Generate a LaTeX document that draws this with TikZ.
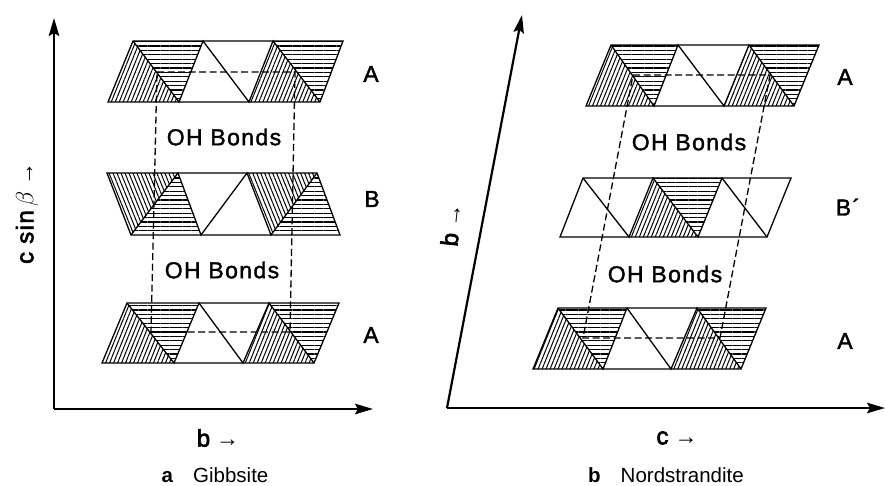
\documentclass[tikz,border=0pt]{standalone}
\usepackage{fontspec}
\setmainfont{Liberation Sans}
\newfontfamily\labelfont[LetterSpace=6,FakeBold=1.6]{Liberation Sans}
\newfontfamily\axisfont[LetterSpace=6,FakeBold=2.6]{Liberation Sans}
\usetikzlibrary{arrows.meta,patterns.meta}
\newcommand{\axisarrow}{{\fontsize{23}{24}\selectfont\normalfont\bfseries →}}
\tikzset{
  sheetline/.style={line width=1.3pt},
  bondline/.style={line width=1.3pt,dash pattern=on 7pt off 3.5pt},
  axisline/.style={line width=2.2pt,-{Stealth[length=18pt,width=10.5pt,inset=3pt]}},
  hatchflat/.style={pattern={Lines[angle=0,distance=4.4pt,line width=1.1pt]}},
  hatchup/.style={pattern={Lines[angle=68,distance=3.7pt,line width=1pt]}},
  hatchdown/.style={pattern={Lines[angle=-68,distance=3.7pt,line width=1pt]}},
  biglabel/.style={font=\fontsize{23}{26}\labelfont},
  axislabel/.style={font=\fontsize{24}{28}\axisfont},
  caption/.style={font=\fontsize{20.5}{24}\selectfont}
}
\begin{document}
\begin{tikzpicture}[x=1pt,y=-1pt]
\useasboundingbox (0,0) rectangle (885,486);

% a: axes
\coordinate (originA) at (54,409);
\coordinate (topA) at (54,18);
\coordinate (rightA) at (373,409);
\draw[axisline] (originA) -- (topA);
\draw[axisline] (originA) -- (rightA);

% a: upper sheet A
\fill[hatchup] (133,41) -- (108,102) -- (179,102) -- cycle;
\fill[hatchflat] (133,41) -- (203,41) -- (179,102) -- cycle;
\fill[hatchup] (273,41) -- (249,102) -- (320,102) -- cycle;
\fill[hatchflat] (273,41) -- (343,41) -- (320,102) -- cycle;
\draw[sheetline] (133,41) -- (343,41) -- (320,102) -- (108,102) -- cycle;
\draw[sheetline] (133,41) -- (179,102) -- (203,41) -- (249,102) -- (273,41) -- (320,102);

% a: middle sheet B
\fill[hatchdown] (107,173) -- (178,173) -- (131,235) -- cycle;
\fill[hatchflat] (178,173) -- (131,235) -- (201,235) -- cycle;
\fill[hatchdown] (247,173) -- (317,173) -- (271,235) -- cycle;
\fill[hatchflat] (317,173) -- (271,235) -- (340,235) -- cycle;
\draw[sheetline] (107,173) -- (317,173) -- (340,235) -- (131,235) -- cycle;
\draw[sheetline] (131,235) -- (178,173) -- (201,235) -- (247,173) -- (271,235) -- (317,173);

% a: lower sheet A
\fill[hatchup] (127,303) -- (102,363) -- (174,363) -- cycle;
\fill[hatchflat] (127,303) -- (199,303) -- (174,363) -- cycle;
\fill[hatchup] (269,303) -- (243,363) -- (314,363) -- cycle;
\fill[hatchflat] (269,303) -- (339,303) -- (314,363) -- cycle;
\draw[sheetline] (127,303) -- (339,303) -- (314,363) -- (102,363) -- cycle;
\draw[sheetline] (127,303) -- (174,363) -- (199,303) -- (243,363) -- (269,303) -- (314,363);

% a: unit cell
\draw[bondline] (157,72) -- (295,72) -- (290,332) -- (151,332) -- cycle;

\node[biglabel] (upperA) at (371,74) {A};
\node[biglabel] (middleB) at (372,199) {B};
\node[biglabel] (lowerA) at (371,335) {A};
\node[biglabel] (bondsAa) at (224,137) {OH Bonds};
\node[biglabel] (bondsAb) at (222,270) {OH Bonds};
\node[axislabel,rotate=90] (csinb) at (27,213) {c sin\,$\beta$\hspace{6pt}\axisarrow};
\node[axislabel] (bArrow) at (218,438) {b\hspace{6pt}\axisarrow};
\node[caption] (capA) at (215,475) {\textbf{a}\hspace{20pt}Gibbsite};

% b: axes
\coordinate (originB) at (447,408);
\coordinate (topB) at (522,15);
\coordinate (rightB) at (885,408);
\draw[axisline] (originB) -- (topB);
\draw[axisline] (originB) -- (rightB);

% b: upper sheet A
\fill[hatchup] (611,45) -- (586,106) -- (654,106) -- cycle;
\fill[hatchflat] (611,45) -- (678,45) -- (654,106) -- cycle;
\fill[hatchup] (749,45) -- (724,106) -- (794,106) -- cycle;
\fill[hatchflat] (749,45) -- (819,45) -- (794,106) -- cycle;
\draw[sheetline] (611,45) -- (819,45) -- (794,106) -- (586,106) -- cycle;
\draw[sheetline] (611,45) -- (654,106) -- (678,45) -- (724,106) -- (749,45) -- (794,106);

% b: middle sheet B'
\fill[hatchup] (653,178) -- (629,237) -- (698,237) -- cycle;
\fill[hatchflat] (653,178) -- (722,178) -- (698,237) -- cycle;
\draw[sheetline] (583,178) -- (791,178) -- (767,237) -- (560,237) -- cycle;
\draw[sheetline] (583,178) -- (629,237) -- (653,178) -- (698,237) -- (722,178) -- (767,237);

% b: lower sheet A
\fill[hatchup] (558,308) -- (533,369) -- (603,369) -- cycle;
\fill[hatchflat] (558,308) -- (627,308) -- (603,369) -- cycle;
\fill[hatchup] (697,308) -- (671,369) -- (741,369) -- cycle;
\fill[hatchflat] (697,308) -- (766,308) -- (741,369) -- cycle;
\draw[sheetline] (558,308) -- (766,308) -- (741,369) -- (533,369) -- cycle;
\draw[sheetline] (558,308) -- (603,369) -- (627,308) -- (671,369) -- (697,308) -- (741,369);

% b: unit cell
\draw[bondline] (633,75) -- (770,75) -- (720,338) -- (583,338) -- cycle;

\node[biglabel] (upperAb) at (845,77) {A};
\node[biglabel] (middleBb) at (848,207) {B´};
\node[biglabel] (lowerAb) at (845,341) {A};
\node[biglabel] (bondsBa) at (689,142) {OH Bonds};
\node[biglabel] (bondsBb) at (665,274) {OH Bonds};
\node[axislabel,rotate=84] (bSlant) at (451,225) {b\hspace{6pt}\axisarrow};
\node[axislabel] (cArrow) at (677,438) {c\hspace{6pt}\axisarrow};
\node[caption] (capB) at (666,475) {\textbf{b}\hspace{20pt}Nordstrandite};
\end{tikzpicture}
\end{document}
